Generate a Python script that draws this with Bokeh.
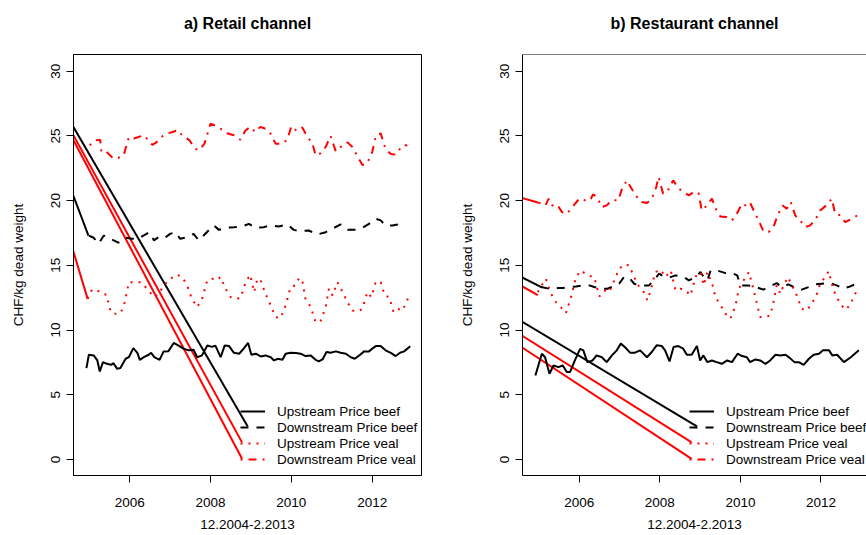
from bokeh.plotting import figure
from bokeh.layouts import row
from bokeh.models import FixedTicker, Legend, LegendItem, Span, Range1d, Title
from bokeh.embed import file_html
from bokeh.resources import INLINE

FONT = "Liberation Sans"

PANEL_TITLES = ["a) Retail channel", "b) Restaurant channel"]
SERIES_NAMES = ["Upstream Price beef", "Downstream Price beef",
                "Upstream Price veal", "Downstream Price veal"]
Y_LABEL = "CHF/kg dead weight"
X_LABEL = "12.2004-2.2013"
YEAR_TICKS = [2006, 2008, 2010, 2012]
PRICE_TICKS = [0, 5, 10, 15, 20, 25, 30]

# ---------------- a) Retail channel (decimal year, CHF/kg) ----------------
retail_up_beef = [
    (2004.93, 7.06), (2004.99, 8.09), (2005.11, 8.04), (2005.20, 7.65), (2005.26, 6.80),
    (2005.34, 7.52), (2005.44, 7.39), (2005.54, 7.31), (2005.60, 7.44), (2005.69, 7.00),
    (2005.77, 7.06), (2005.90, 7.78), (2005.98, 7.90), (2006.09, 8.60), (2006.19, 8.24),
    (2006.25, 7.70), (2006.35, 7.90), (2006.47, 8.09), (2006.53, 8.24), (2006.61, 7.90),
    (2006.74, 7.70), (2006.84, 8.35), (2006.96, 8.37), (2007.09, 9.00), (2007.21, 8.80),
    (2007.33, 8.56), (2007.46, 8.43), (2007.58, 8.48), (2007.67, 7.90), (2007.79, 8.04),
    (2007.92, 8.80), (2008.04, 8.70), (2008.12, 8.80), (2008.25, 7.90), (2008.35, 8.80),
    (2008.46, 8.76), (2008.58, 8.24), (2008.71, 8.17), (2008.82, 8.56), (2008.93, 9.00),
    (2009.01, 8.09), (2009.12, 8.17), (2009.24, 7.96), (2009.36, 8.04), (2009.49, 7.90),
    (2009.57, 7.65), (2009.67, 7.78), (2009.78, 7.70), (2009.86, 8.17), (2009.98, 8.24),
    (2010.11, 8.22), (2010.23, 8.17), (2010.35, 7.99), (2010.48, 8.04), (2010.60, 7.70),
    (2010.68, 7.57), (2010.77, 7.73), (2010.87, 8.30), (2010.97, 8.24), (2011.10, 8.35),
    (2011.22, 8.24), (2011.35, 8.17), (2011.47, 7.90), (2011.57, 7.78), (2011.68, 8.04),
    (2011.80, 8.35), (2011.92, 8.35), (2012.00, 8.56), (2012.09, 8.76), (2012.21, 8.76),
    (2012.33, 8.43), (2012.46, 8.24), (2012.58, 7.99), (2012.69, 8.24), (2012.79, 8.35),
    (2012.94, 8.74),
]
retail_down_beef = [
    (2004.99, 17.30), (2005.11, 17.13), (2005.23, 16.67), (2005.36, 17.30), (2005.52, 17.05),
    (2005.72, 16.75), (2005.89, 17.13), (2006.05, 17.05), (2006.21, 17.05), (2006.34, 17.30),
    (2006.49, 17.56), (2006.60, 16.93), (2006.74, 17.23), (2006.87, 17.13), (2007.00, 17.43),
    (2007.13, 17.56), (2007.25, 17.05), (2007.42, 17.18), (2007.58, 17.43), (2007.71, 16.93),
    (2007.83, 17.30), (2007.95, 17.69), (2008.08, 18.08), (2008.21, 17.74), (2008.37, 17.90),
    (2008.58, 17.95), (2008.78, 18.00), (2008.95, 18.20), (2009.11, 17.90), (2009.32, 17.95),
    (2009.48, 18.08), (2009.69, 18.00), (2009.90, 18.16), (2010.06, 17.74), (2010.23, 17.64),
    (2010.43, 17.69), (2010.64, 17.38), (2010.85, 17.56), (2011.01, 17.82), (2011.22, 18.16),
    (2011.39, 17.74), (2011.55, 17.74), (2011.76, 17.90), (2011.92, 18.20), (2012.09, 18.60),
    (2012.21, 18.47), (2012.33, 18.08), (2012.50, 18.08), (2012.63, 18.16), (2012.71, 18.42),
]
retail_up_veal = [
    (2004.96, 12.41), (2005.07, 13.14), (2005.20, 13.06), (2005.32, 12.80), (2005.43, 12.72),
    (2005.53, 11.38), (2005.66, 11.25), (2005.78, 11.33), (2005.88, 12.15), (2005.98, 13.70),
    (2006.10, 13.70), (2006.27, 13.70), (2006.43, 13.20), (2006.60, 12.54), (2006.72, 12.80),
    (2006.84, 13.45), (2007.01, 13.97), (2007.17, 14.27), (2007.30, 14.10), (2007.42, 13.45),
    (2007.54, 12.41), (2007.67, 11.77), (2007.79, 12.41), (2007.92, 13.84), (2008.04, 13.97),
    (2008.15, 13.84), (2008.25, 14.10), (2008.37, 13.20), (2008.50, 12.54), (2008.62, 12.41),
    (2008.74, 12.46), (2008.87, 13.70), (2008.98, 14.27), (2009.08, 12.93), (2009.16, 13.97),
    (2009.24, 13.84), (2009.36, 12.80), (2009.49, 11.90), (2009.61, 11.00), (2009.73, 10.92),
    (2009.86, 11.90), (2009.98, 13.32), (2010.10, 13.45), (2010.19, 14.02), (2010.27, 13.84),
    (2010.35, 12.41), (2010.48, 11.77), (2010.60, 10.61), (2010.72, 10.66), (2010.85, 11.77),
    (2010.93, 13.20), (2011.02, 12.67), (2011.14, 13.70), (2011.27, 12.93), (2011.39, 12.15),
    (2011.51, 11.51), (2011.64, 11.43), (2011.76, 11.64), (2011.88, 12.93), (2011.98, 12.54),
    (2012.09, 13.76), (2012.21, 13.70), (2012.31, 12.67), (2012.42, 12.54), (2012.53, 11.38),
    (2012.63, 11.64), (2012.75, 11.51), (2012.92, 12.67),
]
retail_down_veal = [
    (2005.01, 24.27), (2005.15, 24.65), (2005.27, 24.70), (2005.30, 23.75), (2005.43, 23.75),
    (2005.60, 23.24), (2005.72, 23.30), (2005.85, 23.50), (2005.98, 24.90), (2006.10, 24.80),
    (2006.20, 24.90), (2006.35, 25.05), (2006.45, 24.70), (2006.56, 24.30), (2006.66, 24.50),
    (2006.82, 25.00), (2006.94, 25.20), (2007.06, 25.30), (2007.19, 25.45), (2007.31, 25.00),
    (2007.47, 24.70), (2007.62, 24.00), (2007.72, 23.90), (2007.85, 24.40), (2008.00, 25.94),
    (2008.12, 25.80), (2008.25, 25.55), (2008.41, 25.20), (2008.58, 25.05), (2008.74, 24.70),
    (2008.86, 25.40), (2008.98, 25.70), (2009.11, 25.30), (2009.23, 25.70), (2009.36, 25.55),
    (2009.48, 25.20), (2009.61, 24.40), (2009.77, 24.40), (2009.90, 24.70), (2010.00, 25.75),
    (2010.13, 25.40), (2010.27, 25.65), (2010.40, 24.90), (2010.52, 24.45), (2010.60, 23.50),
    (2010.72, 23.65), (2010.85, 24.15), (2010.97, 25.00), (2011.10, 23.80), (2011.22, 24.15),
    (2011.39, 24.50), (2011.51, 24.15), (2011.64, 23.40), (2011.76, 22.75), (2011.88, 22.90),
    (2012.00, 23.75), (2012.09, 25.00), (2012.21, 25.20), (2012.33, 24.00), (2012.46, 23.60),
    (2012.58, 23.55), (2012.71, 24.10), (2012.79, 24.30), (2012.87, 24.25),
]
# straight connector strokes drawn in the original (x0, y0, x1, y1)
retail_connect_beef = [(2004.55, 26.00, 2008.92, 2.55), (2004.55, 20.85, 2004.98, 17.30)]
retail_connect_veal = [(2004.55, 25.38, 2008.78, 1.32), (2004.55, 25.02, 2008.78, 0.05),
                       (2004.55, 16.65, 2004.96, 12.41)]

# ---------------- b) Restaurant channel ----------------
rest_up_beef = [
    (2004.91, 6.49), (2005.07, 8.17), (2005.15, 7.90), (2005.26, 6.62), (2005.36, 7.26),
    (2005.48, 7.13), (2005.59, 7.26), (2005.69, 6.75), (2005.77, 6.75), (2005.89, 7.65),
    (2006.02, 8.55), (2006.10, 8.43), (2006.20, 7.52), (2006.33, 7.65), (2006.43, 8.04),
    (2006.56, 7.90), (2006.68, 7.52), (2006.81, 8.04), (2006.93, 8.43), (2007.03, 8.95),
    (2007.13, 8.69), (2007.26, 8.25), (2007.38, 8.25), (2007.51, 8.43), (2007.68, 7.90),
    (2007.80, 8.30), (2007.92, 8.82), (2008.05, 8.76), (2008.13, 8.43), (2008.24, 7.57),
    (2008.34, 8.69), (2008.46, 8.76), (2008.58, 8.56), (2008.67, 8.09), (2008.79, 8.09),
    (2008.92, 8.76), (2009.00, 7.65), (2009.08, 8.04), (2009.18, 7.52), (2009.29, 7.65),
    (2009.41, 7.52), (2009.54, 7.39), (2009.67, 7.65), (2009.79, 7.52), (2009.93, 8.17),
    (2010.04, 7.99), (2010.16, 7.90), (2010.24, 7.52), (2010.37, 7.73), (2010.49, 7.65),
    (2010.62, 7.39), (2010.74, 7.65), (2010.87, 8.09), (2010.99, 8.04), (2011.12, 8.09),
    (2011.23, 7.83), (2011.34, 7.52), (2011.45, 7.52), (2011.57, 7.31), (2011.70, 7.78),
    (2011.82, 8.09), (2011.95, 8.17), (2012.05, 8.43), (2012.20, 8.43), (2012.28, 8.04),
    (2012.40, 8.09), (2012.57, 7.52), (2012.74, 7.90), (2012.94, 8.43),
]
rest_down_beef = [
    (2005.05, 13.32), (2005.26, 13.19), (2005.42, 13.25), (2005.59, 13.25), (2005.75, 13.32),
    (2005.92, 13.37), (2006.08, 13.45), (2006.25, 13.45), (2006.37, 13.32), (2006.54, 13.19),
    (2006.70, 13.19), (2006.83, 13.37), (2006.99, 13.58), (2007.12, 14.14), (2007.24, 14.04),
    (2007.36, 13.58), (2007.49, 13.45), (2007.56, 13.45), (2007.73, 13.45), (2007.85, 13.84),
    (2007.98, 14.35), (2008.10, 14.14), (2008.22, 14.04), (2008.39, 14.22), (2008.60, 14.09),
    (2008.72, 13.84), (2008.89, 14.09), (2009.01, 14.48), (2009.09, 14.09), (2009.18, 13.84),
    (2009.26, 14.60), (2009.42, 14.60), (2009.63, 14.40), (2009.80, 14.40), (2009.92, 14.22),
    (2010.00, 13.45), (2010.17, 13.45), (2010.33, 13.37), (2010.57, 13.12), (2010.70, 13.32),
    (2010.90, 13.63), (2011.03, 13.32), (2011.19, 13.53), (2011.36, 13.27), (2011.52, 13.12),
    (2011.69, 13.32), (2011.86, 13.53), (2012.02, 13.58), (2012.23, 13.63), (2012.39, 13.45),
    (2012.56, 13.19), (2012.68, 13.32), (2012.85, 13.53),
]
rest_up_veal = [
    (2004.97, 12.93), (2005.09, 13.58), (2005.17, 13.96), (2005.30, 12.80), (2005.42, 12.16),
    (2005.54, 11.77), (2005.67, 11.31), (2005.79, 12.50), (2005.92, 14.09), (2006.04, 14.60),
    (2006.21, 14.22), (2006.37, 14.09), (2006.50, 12.60), (2006.62, 13.06), (2006.74, 12.93),
    (2006.87, 13.84), (2006.99, 14.74), (2007.12, 15.07), (2007.24, 14.99), (2007.36, 14.09),
    (2007.49, 13.32), (2007.60, 12.93), (2007.69, 12.29), (2007.77, 13.06), (2007.89, 14.48),
    (2008.02, 14.66), (2008.14, 14.09), (2008.27, 14.60), (2008.39, 13.06), (2008.51, 13.19),
    (2008.64, 13.06), (2008.76, 12.67), (2008.89, 14.14), (2009.01, 14.48), (2009.09, 13.45),
    (2009.18, 14.48), (2009.30, 13.58), (2009.38, 12.55), (2009.51, 11.90), (2009.63, 11.26),
    (2009.75, 10.87), (2009.88, 11.90), (2009.96, 13.19), (2010.08, 13.84), (2010.21, 14.48),
    (2010.33, 13.06), (2010.41, 12.03), (2010.49, 11.00), (2010.62, 11.00), (2010.74, 11.13),
    (2010.82, 12.16), (2010.90, 13.45), (2010.99, 12.80), (2011.07, 13.45), (2011.18, 14.09),
    (2011.28, 13.45), (2011.40, 12.67), (2011.52, 11.64), (2011.65, 11.51), (2011.77, 12.03),
    (2011.90, 12.80), (2011.98, 13.58), (2012.10, 14.09), (2012.19, 14.55), (2012.27, 13.58),
    (2012.35, 12.80), (2012.48, 12.03), (2012.60, 11.57), (2012.72, 11.90), (2012.83, 12.67),
    (2012.93, 13.32),
]
rest_down_veal = [
    (2004.99, 19.84), (2005.16, 19.63), (2005.24, 20.15), (2005.32, 19.63), (2005.45, 19.70),
    (2005.57, 19.11), (2005.69, 18.98), (2005.86, 19.63), (2006.00, 20.15), (2006.15, 20.02),
    (2006.27, 20.02), (2006.34, 20.48), (2006.44, 20.28), (2006.56, 19.50), (2006.68, 19.63),
    (2006.81, 20.02), (2006.97, 20.02), (2007.06, 20.92), (2007.18, 21.56), (2007.30, 20.92),
    (2007.43, 20.28), (2007.55, 19.89), (2007.68, 19.81), (2007.80, 20.15), (2007.91, 21.05),
    (2007.97, 21.82), (2008.08, 20.54), (2008.18, 20.67), (2008.33, 21.56), (2008.47, 20.92),
    (2008.59, 20.67), (2008.72, 20.41), (2008.84, 20.67), (2008.96, 20.60), (2009.04, 19.24),
    (2009.17, 19.63), (2009.29, 20.15), (2009.40, 19.30), (2009.50, 18.78), (2009.65, 18.73),
    (2009.79, 18.47), (2009.91, 18.98), (2010.04, 19.76), (2010.12, 19.63), (2010.23, 19.89),
    (2010.33, 19.24), (2010.45, 18.47), (2010.57, 17.64), (2010.70, 17.57), (2010.82, 17.96),
    (2010.94, 18.98), (2011.05, 19.63), (2011.15, 19.37), (2011.25, 19.89), (2011.36, 18.86),
    (2011.48, 18.47), (2011.61, 17.96), (2011.73, 18.09), (2011.85, 18.47), (2011.98, 19.24),
    (2012.13, 19.63), (2012.27, 20.15), (2012.35, 18.98), (2012.48, 18.86), (2012.60, 18.34),
    (2012.77, 18.60), (2012.90, 18.86),
]
rest_connect_beef = [(2004.55, 10.70, 2008.92, 2.55), (2004.55, 14.12, 2005.07, 13.30)]
rest_connect_veal = [(2004.55, 9.62, 2008.79, 1.32), (2004.55, 8.72, 2008.79, 0.05),
                     (2004.55, 13.43, 2004.97, 12.70), (2004.55, 20.22, 2004.99, 19.84)]

# ---------------- styles ----------------
SERIES_COLORS = ["black", "black", "red", "red"]
SERIES_DASHES = ["solid", "8 8", "2 6", "2 6 8 6"]
LINE_W = 2


def style_axes(p):
    for ax in (p.xaxis[0], p.yaxis[0]):
        ax.axis_line_color = "black"
        ax.major_tick_line_color = "black"
        ax.major_tick_in = 0
        ax.major_tick_out = 7
        ax.minor_tick_line_color = None
        ax.major_label_text_font = FONT
        ax.major_label_text_font_size = "13.5px"
        ax.major_label_text_color = "black"
        ax.axis_label_text_font = FONT
        ax.axis_label_text_font_size = "13.5px"
        ax.axis_label_text_font_style = "normal"
        ax.axis_label_text_color = "black"
    p.xaxis[0].ticker = FixedTicker(ticks=YEAR_TICKS)
    p.xaxis[0].major_label_standoff = 15
    p.xaxis[0].axis_label = X_LABEL
    p.xaxis[0].axis_label_standoff = 10
    p.yaxis[0].ticker = FixedTicker(ticks=PRICE_TICKS)
    p.yaxis[0].major_label_orientation = "vertical"
    p.yaxis[0].major_label_standoff = 6
    p.yaxis[0].axis_label = Y_LABEL
    p.yaxis[0].axis_label_standoff = 23
    p.xgrid.visible = False
    p.ygrid.visible = False


def make_panel(title, series, conn_beef, conn_veal, xlim, frame_w, mb_left, mb_right, boxed):
    p = figure(frame_width=frame_w, frame_height=421,
               min_border_left=mb_left, min_border_right=mb_right,
               min_border_top=54, min_border_bottom=60,
               x_range=Range1d(*xlim), y_range=Range1d(-1.24, 31.29),
               output_backend="svg", toolbar_location=None,
               background_fill_color="white", border_fill_color="white")
    # spacer first (closest to the frame), then the visible title above it
    p.add_layout(Title(text=" ", text_font=FONT, text_font_size="10px", standoff=5), "above")
    p.add_layout(Title(text=title, align="center", text_font=FONT, text_font_size="16px",
                       text_font_style="bold", text_color="black"), "above")
    if boxed:
        p.outline_line_color = "black"
        p.outline_line_width = 1
    else:
        p.outline_line_color = None
        p.add_layout(Span(location=31.29, dimension="width", line_color="black", line_width=1))
    style_axes(p)

    for conns, color in ((conn_beef, "black"), (conn_veal, "red")):
        p.segment(x0=[c[0] for c in conns], y0=[c[1] for c in conns],
                  x1=[c[2] for c in conns], y1=[c[3] for c in conns],
                  line_color=color, line_width=LINE_W)

    items = []
    for name, data, color, dash in zip(SERIES_NAMES, series, SERIES_COLORS, SERIES_DASHES):
        r = p.line([d[0] for d in data], [d[1] for d in data],
                   line_color=color, line_dash=dash, line_width=LINE_W)
        items.append(LegendItem(label=name, renderers=[r]))

    legend = Legend(items=items, location=(167, 8), padding=0, margin=0, spacing=0,
                    glyph_width=25, glyph_height=16, label_height=16, label_standoff=12,
                    label_text_font=FONT, label_text_font_size="13.5px",
                    label_text_color="black",
                    border_line_color=None, background_fill_alpha=0)
    p.add_layout(legend)
    return p


p1 = make_panel(PANEL_TITLES[0],
                [retail_up_beef, retail_down_beef, retail_up_veal, retail_down_veal],
                retail_connect_beef, retail_connect_veal,
                (2004.61, 2013.22), 348, 73, 12, True)
p2 = make_panel(PANEL_TITLES[1],
                [rest_up_beef, rest_down_beef, rest_up_veal, rest_down_veal],
                rest_connect_beef, rest_connect_veal,
                (2004.59, 2013.13), 344, 89, 0, False)

layout = row(p1, p2)
open("out.html", "w").write(file_html(layout, INLINE))
